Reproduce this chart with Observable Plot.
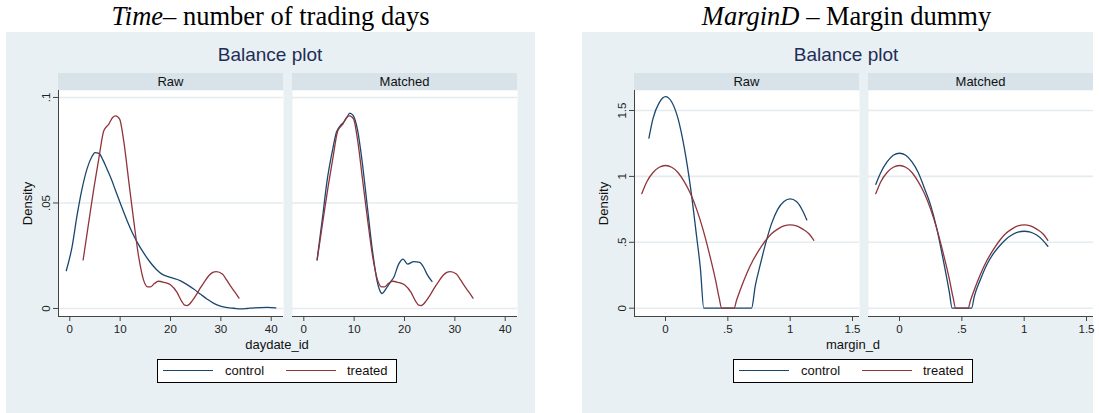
<!DOCTYPE html>
<html><head><meta charset="utf-8">
<script src="https://cdn.jsdelivr.net/npm/d3@7"></script>
<script src="https://cdn.jsdelivr.net/npm/@observablehq/plot@0.6"></script>
<style>
body{margin:0;background:#fff;width:1099px;height:413px;position:relative;overflow:hidden;font-family:"Liberation Sans",Arial,Helvetica,sans-serif;}
.title{position:absolute;top:1px;font-family:"Liberation Serif","Times New Roman",serif;font-size:26.5px;line-height:30px;white-space:nowrap;transform:translateX(-50%);color:#000}
.panel{position:absolute;top:32px;height:381px;background:#e8f0f3;overflow:visible}
.bp{position:absolute;top:12px;font-size:19px;line-height:22px;color:#1e2d57;white-space:nowrap;transform:translateX(-50%)}
.hdr{position:absolute;top:41px;width:225px;height:17px;background:#d7e2e9;font-size:13px;line-height:17px;text-align:center;color:#111}
.svgbox{position:absolute;top:54px;overflow:visible}
.svgbox svg{max-width:none !important;display:block}
.xt{position:absolute;top:305px;font-size:13px;line-height:15px;color:#111;white-space:nowrap;transform:translateX(-50%)}
.legend{position:absolute;top:327px;width:238px;height:22px;border:1px solid #000;background:#fff}
.lline{position:absolute;top:10px;width:50px;height:1.4px}
.ltxt{position:absolute;top:0;font-size:13px;line-height:22px;color:#111;white-space:nowrap}
</style>
</head><body>
<script>
const navy = "#1a476f", maroon = "#90353b";
const groups = ["control", "treated"];
const facetNames = ["Raw", "Matched"];

// Time (daydate_id) densities [x, density]
const timeRawControl = [[-0.7,0.0179],[0.45,0.0292],[1.45,0.0442],[2.45,0.0569],[3.45,0.0664],[4.4,0.072],[5.0,0.0739],[5.8,0.0735],[6.6,0.0703],[7.4,0.066],[8.3,0.061],[9.1,0.0558],[10.2,0.0488],[11.4,0.0415],[12.4,0.036],[13.4,0.0313],[14.7,0.0262],[16.0,0.0218],[17.2,0.0185],[18.3,0.0163],[20.0,0.0147],[22.0,0.0131],[23.3,0.0113],[24.6,0.0092],[26.0,0.0067],[27.3,0.0044],[28.6,0.0024],[29.9,0.0011],[31.3,0.0004],[32.6,0.0001],[33.9,-0.0002],[35.2,0.0],[36.6,0.0003],[39.2,0.0005],[40.9,0.0003]];
const timeTreated = [[2.65,0.023],[3.8,0.0415],[4.8,0.0573],[5.8,0.0716],[6.75,0.0842],[7.75,0.0874],[8.5,0.0905],[9.1,0.0913],[9.9,0.0897],[10.7,0.0795],[11.7,0.0605],[12.7,0.0415],[13.7,0.0242],[14.7,0.0131],[15.5,0.0102],[16.0,0.0102],[16.8,0.0118],[17.6,0.0129],[18.7,0.0124],[20.0,0.0112],[21.3,0.0076],[22.2,0.0035],[22.8,0.0016],[23.3,0.0014],[24.3,0.0036],[25.2,0.0068],[26.0,0.01],[26.8,0.0129],[27.6,0.0155],[28.4,0.0171],[29.1,0.0175],[30.3,0.0163],[31.1,0.0137],[31.9,0.0107],[32.8,0.0077],[33.6,0.0049]];
const timeMatchedControl = [[2.64,0.0231],[3.64,0.0416],[4.63,0.0606],[5.62,0.074],[6.48,0.0835],[7.27,0.0867],[7.93,0.0883],[8.6,0.0907],[9.12,0.0926],[9.79,0.0915],[10.7,0.0843],[11.57,0.07],[12.56,0.0495],[13.55,0.029],[14.55,0.0131],[15.05,0.0088],[15.54,0.0071],[16.5,0.01],[17.3,0.0128],[17.85,0.0147],[18.84,0.021],[19.7,0.0234],[20.63,0.021],[21.8,0.0222],[23.0,0.0218],[23.8,0.0195],[24.46,0.0163],[25.45,0.0128]];

// Margin dummy (margin_d) densities [x, density]
const marginRawControl = [[-0.133,1.29],[-0.1,1.44],[-0.05,1.56],[0,1.606],[0.05,1.565],[0.1,1.44],[0.15,1.22],[0.2,0.92],[0.25,0.54],[0.28,0.3],[0.307,0],[0.5,0],[0.69,0],[0.72,0.17],[0.76,0.33],[0.8,0.48],[0.85,0.64],[0.9,0.75],[0.95,0.81],[1.0,0.83],[1.05,0.81],[1.1,0.74],[1.133,0.67]];
const marginTreated = [[-0.19,0.87],[-0.15,0.96],[-0.1,1.03],[-0.05,1.07],[0,1.083],[0.05,1.07],[0.1,1.03],[0.15,0.96],[0.2,0.87],[0.25,0.75],[0.3,0.6],[0.35,0.42],[0.4,0.22],[0.43,0.08],[0.45,0],[0.5,0],[0.55,0],[0.57,0.06],[0.6,0.14],[0.65,0.26],[0.7,0.36],[0.75,0.44],[0.8,0.51],[0.85,0.565],[0.9,0.6],[0.95,0.625],[1.0,0.632],[1.05,0.625],[1.1,0.6],[1.15,0.565],[1.19,0.515]];
const marginMatchedControl = [[-0.19,0.94],[-0.15,1.03],[-0.1,1.11],[-0.05,1.16],[0,1.176],[0.05,1.16],[0.1,1.11],[0.15,1.03],[0.2,0.91],[0.25,0.78],[0.3,0.6],[0.35,0.37],[0.4,0.12],[0.422,0],[0.5,0],[0.578,0],[0.6,0.09],[0.65,0.22],[0.7,0.33],[0.75,0.41],[0.8,0.47],[0.85,0.52],[0.9,0.555],[0.95,0.578],[1.0,0.584],[1.05,0.578],[1.1,0.555],[1.15,0.515],[1.19,0.47]];

const timeXTicks = [0, 10, 20, 30, 40];
const timeYTicks = [0, 0.05, 0.1];
const marginXTicks = [0, 0.5, 1, 1.5];
const marginYTicks = [0, 0.5, 1, 1.5];

const fmt = d => d === 0 ? "0" : String(d).replace(/^0\./, ".");

const panels = [
  {left: 6, width: 529, titleItalic: "Time", titleRest: "– number of trading days", xTitle: "daydate_id",
   xDomain: [-2.244, 42.44], yDomain: [-0.0038, 0.1033], xTicks: timeXTicks, yTicks: timeYTicks,
   raw: {control: timeRawControl, treated: timeTreated}, matched: {control: timeMatchedControl, treated: timeTreated}},
  {left: 582, width: 511, titleItalic: "MarginD", titleRest: " – Margin dummy", xTitle: "margin_d",
   xDomain: [-0.2487, 1.556], yDomain: [-0.063, 1.652], xTicks: marginXTicks, yTicks: marginYTicks,
   raw: {control: marginRawControl, treated: marginTreated}, matched: {control: marginMatchedControl, treated: marginTreated}}
];

const axisColor = "#444", gridColor = "#e4ecef";

function toRows(sets) {
  const rows = [];
  for (const g of groups) for (const [x, y] of sets[g]) rows.push({x, y, g});
  return rows;
}

function facetPlot(p, sets, showY) {
  const mL = showY ? 52 : 10, mR = 4, mT = 4, mB = 32;
  const marks = [
    Plot.frame({fill: "white", stroke: null}),
    Plot.ruleY(p.yTicks, {stroke: gridColor, strokeWidth: 1.6}),
    Plot.line(toRows(sets), {x: "x", y: "y", z: "g", stroke: "g", curve: "monotone-x", strokeWidth: 1.3}),
    Plot.axisX({ticks: p.xTicks, tickFormat: fmt, tickSize: 5, tickPadding: 3, label: null, stroke: axisColor}),
    Plot.ruleY([p.yDomain[0]], {stroke: axisColor, strokeWidth: 1})
  ];
  if (showY) {
    marks.push(
      Plot.axisY({ticks: p.yTicks, tickFormat: fmt, tickSize: 5, tickRotate: -90, label: null, stroke: axisColor}),
      Plot.ruleX([p.xDomain[0]], {stroke: axisColor, strokeWidth: 1}),
      Plot.text(["Density"], {text: d => d, frameAnchor: "left", rotate: -90, dx: -31, fontSize: 13, textAnchor: "middle", lineAnchor: "middle", fill: "#111"})
    );
  }
  const w = mL + 225 + mR, h = mT + 226 + mB;
  const svg = Plot.plot({
    width: w, height: h,
    marginLeft: mL, marginRight: mR, marginTop: mT, marginBottom: mB,
    x: {domain: p.xDomain},
    y: {domain: p.yDomain, axis: showY ? undefined : null},
    color: {domain: groups, range: [navy, maroon]},
    style: {fontFamily: "'Liberation Sans', Arial, Helvetica, sans-serif", fontSize: "11.5px", color: "#222", background: "transparent", overflow: "visible", maxWidth: "none"},
    marks
  });
  return {svg, w, h};
}

for (const p of panels) {
  const t = document.createElement("div");
  t.className = "title";
  t.style.left = (p.left + 264.5) + "px";
  const it = document.createElement("i");
  it.textContent = p.titleItalic;
  t.appendChild(it);
  t.appendChild(document.createTextNode(p.titleRest));
  document.body.appendChild(t);

  const panel = document.createElement("div");
  panel.className = "panel";
  panel.style.left = p.left + "px";
  panel.style.width = p.width + "px";
  document.body.appendChild(panel);

  const bp = document.createElement("div");
  bp.className = "bp"; bp.style.left = "264px"; bp.textContent = "Balance plot";
  panel.appendChild(bp);

  facetNames.forEach((name, i) => {
    const h = document.createElement("div");
    h.className = "hdr"; h.style.left = (i === 0 ? 52 : 286) + "px"; h.textContent = name;
    panel.appendChild(h);
    const box = document.createElement("div");
    box.className = "svgbox"; box.style.left = (i === 0 ? 0 : 276) + "px";
    const f = facetPlot(p, i === 0 ? p.raw : p.matched, i === 0);
    box.style.width = f.w + "px"; box.style.height = f.h + "px";
    box.appendChild(f.svg);
    panel.appendChild(box);
  });

  const xt = document.createElement("div");
  xt.className = "xt"; xt.style.left = "271px"; xt.textContent = p.xTitle;
  panel.appendChild(xt);

  const lg = document.createElement("div");
  lg.className = "legend"; lg.style.left = "151px";
  const items = [{x: 5, tx: 67, c: navy}, {x: 128, tx: 189, c: maroon}];
  groups.forEach((g, i) => {
    const l = document.createElement("div");
    l.className = "lline"; l.style.left = items[i].x + "px"; l.style.background = items[i].c;
    lg.appendChild(l);
    const s = document.createElement("div");
    s.className = "ltxt"; s.style.left = items[i].tx + "px"; s.textContent = g;
    lg.appendChild(s);
  });
  panel.appendChild(lg);
}
</script>
</body></html>
